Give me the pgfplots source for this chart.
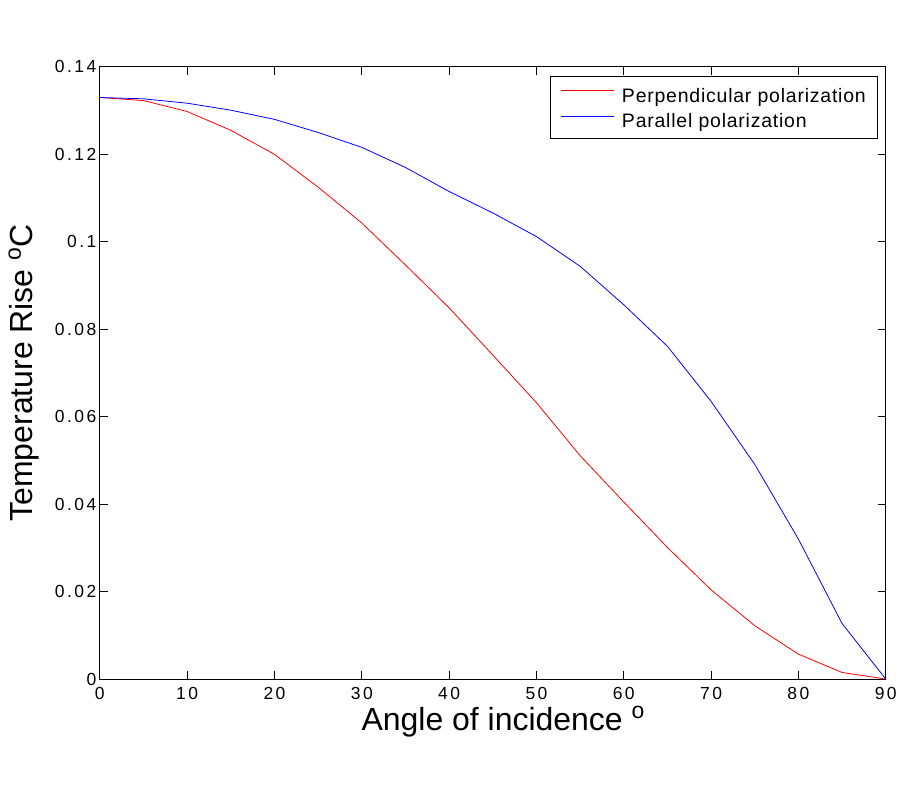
\documentclass[border=0pt]{standalone}
\usepackage{fontspec}
\setmainfont{Liberation Sans}
\newfontfamily\tickfont[LetterSpace=14]{Liberation Sans}
\newfontfamily\legfont[LetterSpace=4]{Liberation Sans}
\usepackage{pgfplots}
\pgfplotsset{compat=1.18}
\newcommand{\dego}{\raisebox{12pt}{\fontsize{23}{24}\selectfont o}}
\newcommand{\lstrut}{\rule[-6pt]{0pt}{23pt}}
\begin{document}
\begin{tikzpicture}[x=1pt,y=1pt]
\begin{axis}[
  at={(0,0)}, anchor=south west,
  scale only axis, width=787pt, height=613pt,
  xmin=0, xmax=90, ymin=0, ymax=0.14,
  xtick={0,10,...,90},
  ytick={0,0.02,...,0.14},
  scaled y ticks=false,
  yticklabel style={/pgf/number format/fixed,/pgf/number format/precision=2},
  xticklabel style={yshift=-5pt},
  /pgf/number format/assume math mode=true,
  tick align=inside, major tick length=8pt,
  ticklabel style={font=\tickfont\fontsize{17.5}{19}\selectfont},
  tick style={black, line width=0.8pt},
  axis line style={line width=0.8pt},
  xlabel={Angle of incidence \dego},
  ylabel={Temperature Rise \dego C},
  label style={font=\fontsize{32}{36}\selectfont},
  xlabel style={at={(axis description cs:0.513,-0.0848)}, anchor=base},
  ylabel style={at={(axis description cs:-0.0851,0.5)}, anchor=base},
  legend style={at={(axis description cs:0.9898,0.9853)}, anchor=north east,
    font=\legfont\fontsize{19.5}{22}\selectfont, draw=black, line width=0.8pt,
    inner xsep=9.5pt, inner ysep=7pt, row sep=3pt, column sep=6pt},
  legend cell align=left,
  legend image code/.code={\draw[mark repeat=2,mark phase=2,#1] plot coordinates {(0pt,4pt) (26pt,4pt) (53pt,4pt)};},
]
\addplot[color=red, line width=0.8pt] coordinates {
(0,0.1330) (5,0.1323) (10,0.1298) (15,0.1255) (20,0.1200) (25,0.1125)
(30,0.1043) (35,0.0947) (40,0.0849) (45,0.0741) (50,0.0632) (55,0.0511)
(60,0.0405) (65,0.0301) (70,0.0204) (75,0.0122) (80,0.0057) (85,0.0015) (90,0.0000)};
\addlegendentry{\lstrut Perpendicular polarization}
\addplot[color=blue, line width=0.8pt] coordinates {
(0,0.1330) (5,0.1327) (10,0.1317) (15,0.1301) (20,0.1280) (25,0.1250)
(30,0.1216) (35,0.1170) (40,0.1115) (45,0.1066) (50,0.1012) (55,0.0944)
(60,0.0856) (65,0.0761) (70,0.0635) (75,0.0491) (80,0.0320) (85,0.0127) (90,0.0000)};
\addlegendentry{\lstrut Parallel polarization}
\end{axis}
\path[use as bounding box] (-100pt,-120pt) rectangle (800pt,680pt);
\end{tikzpicture}
\end{document}
